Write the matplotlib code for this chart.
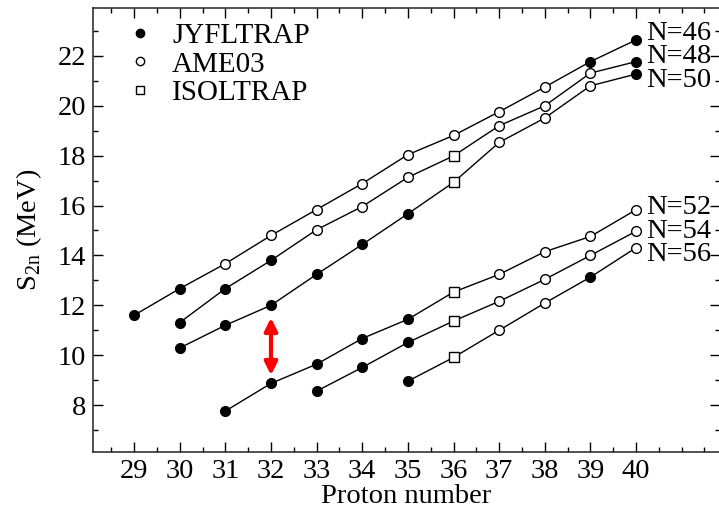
import matplotlib
matplotlib.use("Agg")
import matplotlib.pyplot as plt
from matplotlib.lines import Line2D
from matplotlib.ticker import MultipleLocator
import numpy as np

plt.rcParams['font.family'] = ['Liberation Serif', 'DejaVu Serif']
plt.rcParams['mathtext.fontset'] = 'custom'
plt.rcParams['mathtext.rm'] = 'Liberation Serif'

# S2n values (MeV) per isotone chain, with the source of each point
# J = JYFLTRAP, A = AME03, I = ISOLTRAP
z46 = [29, 30, 31, 32, 33, 34, 35, 36, 37, 38, 39, 40]
s46 = [11.60, 12.67, 13.67, 14.80, 15.84, 16.88, 18.04, 18.81, 19.76, 20.75, 21.77, 22.64]
t46 = ['J', 'J', 'A', 'A', 'A', 'A', 'A', 'A', 'A', 'A', 'J', 'J']

z48 = [30, 31, 32, 33, 34, 35, 36, 37, 38, 39, 40]
s48 = [11.31, 12.67, 13.80, 15.03, 15.96, 17.13, 17.99, 19.20, 20.00, 21.31, 21.77]
t48 = ['J', 'J', 'J', 'A', 'A', 'A', 'I', 'A', 'A', 'A', 'J']

z50 = [30, 31, 32, 33, 34, 35, 36, 37, 38, 39, 40]
s50 = [10.29, 11.20, 12.00, 13.24, 14.44, 15.67, 16.93, 18.53, 19.51, 20.80, 21.27]
t50 = ['J', 'J', 'J', 'J', 'J', 'J', 'I', 'A', 'A', 'A', 'J']

z52 = [31, 32, 33, 34, 35, 36, 37, 38, 39, 40]
s52 = [7.76, 8.87, 9.64, 10.67, 11.44, 12.53, 13.24, 14.15, 14.76, 15.83]
t52 = ['J', 'J', 'J', 'J', 'J', 'I', 'A', 'A', 'A', 'A']

z54 = [33, 34, 35, 36, 37, 38, 39, 40]
s54 = [8.56, 9.51, 10.51, 11.37, 12.16, 13.04, 14.00, 14.97]
t54 = ['J', 'J', 'J', 'I', 'A', 'A', 'A', 'A']

z56 = [35, 36, 37, 38, 39, 40]
s56 = [8.96, 9.91, 11.00, 12.09, 13.13, 14.31]
t56 = ['J', 'I', 'A', 'A', 'J', 'A']

series = [(z46, s46, t46, 'N=46', 22.88),
          (z48, s48, t48, 'N=48', 21.96),
          (z50, s50, t50, 'N=50', 21.00),
          (z52, s52, t52, 'N=52', 15.92),
          (z54, s54, t54, 'N=54', 14.95),
          (z56, s56, t56, 'N=56', 14.02)]

styles = {'J': dict(marker='o', mfc='black', mec='black', ms=7),
          'A': dict(marker='o', mfc='white', mec='black', ms=7),
          'I': dict(marker='s', mfc='white', mec='black', ms=6.5)}

fs = 20.5

fig = plt.figure(figsize=(7.19, 5.12), dpi=100)
ax = fig.add_axes([93 / 719, 60 / 512, 627 / 719, 444 / 512])

for z, s, t, lab, ly in series:
    z = np.array(z)
    s = np.array(s)
    t = np.array(t)
    ax.plot(z, s, color='black', lw=1.0, zorder=2)
    for k, st in styles.items():
        m = t == k
        if m.any():
            ax.plot(z[m], s[m], ls='none', mew=1.0, zorder=3, **st)
    ax.text(40.23, ly, lab, ha='left', va='center', fontsize=fs)

ax.annotate('', xy=(32, 11.5), xytext=(32, 9.2),
            arrowprops=dict(arrowstyle='<|-|>', color='red', lw=3,
                            mutation_scale=19, shrinkA=0, shrinkB=0))

handles = [Line2D([], [], ls='none', marker='o', mfc='black', mec='black', ms=6),
           Line2D([], [], ls='none', marker='o', mfc='white', mec='black', ms=6),
           Line2D([], [], ls='none', marker='s', mfc='white', mec='black', ms=5.5)]
ax.legend(handles, ['JYFLTRAP', 'AME03', 'ISOLTRAP'], loc='upper left',
          frameon=False, fontsize=21, handlelength=1.0, handletextpad=0.6,
          labelspacing=0.07, borderaxespad=0.0,
          bbox_to_anchor=(0.033, 1.0 - 3 / 444))

ax.set_xlim(28.1, 41.84)
ax.set_ylim(6.12, 23.92)
ax.set_xticks(range(29, 41))
ax.xaxis.set_minor_locator(MultipleLocator(0.5))
ax.set_yticks(range(8, 24, 2))
ax.yaxis.set_minor_locator(MultipleLocator(1))
ax.tick_params(which='both', direction='in', top=True, right=True, labelsize=fs)
ax.tick_params(which='major', length=7, width=1)
ax.tick_params(which='minor', length=3.5, width=1)
ax.tick_params(axis='x', pad=5)
ax.tick_params(axis='y', pad=5)
for sp in ax.spines.values():
    sp.set_linewidth(1.2)
    sp.set_color('#333333')

ax.set_xlabel('Proton number', fontsize=fs, labelpad=0)
ax.set_ylabel(r'S$_{\mathrm{2n}}$ (MeV)', fontsize=fs, labelpad=10)

fig.savefig('out.png', dpi=100)
